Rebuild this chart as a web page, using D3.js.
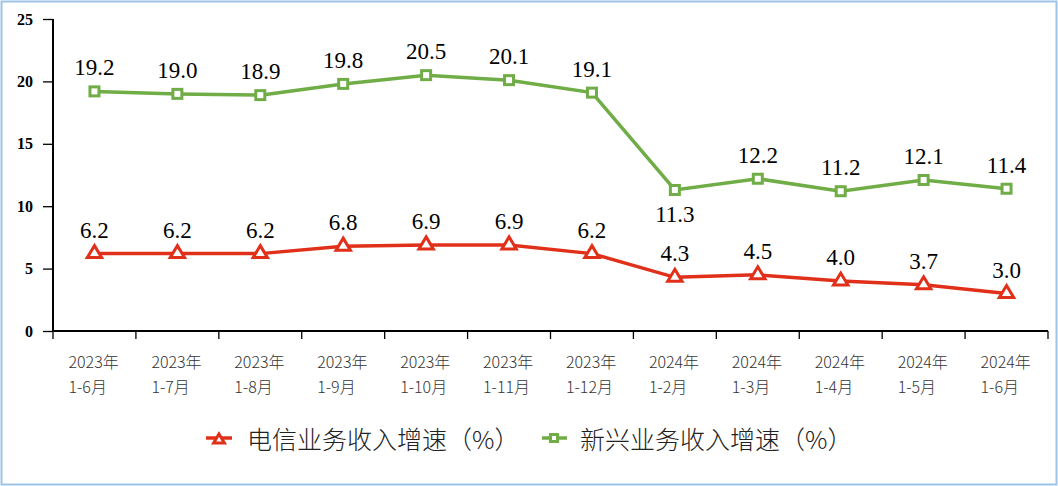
<!DOCTYPE html>
<html><head><meta charset="utf-8">
<script src="https://cdn.jsdelivr.net/npm/d3@7"></script>
<style>body{margin:0;background:#fff}svg{display:block}</style>
</head><body>
<script>
const categories = [["2023年","1-6月"],["2023年","1-7月"],["2023年","1-8月"],["2023年","1-9月"],["2023年","1-10月"],["2023年","1-11月"],["2023年","1-12月"],["2024年","1-2月"],["2024年","1-3月"],["2024年","1-4月"],["2024年","1-5月"],["2024年","1-6月"]];
const telecom = [6.2,6.2,6.2,6.8,6.9,6.9,6.2,4.3,4.5,4.0,3.7,3.0];
const emerging = [19.2,19.0,18.9,19.8,20.5,20.1,19.1,11.3,12.2,11.2,12.1,11.4];
const yTicks = [0,5,10,15,20,25];
const seriesNames = ["电信业务收入增速（%）","新兴业务收入增速（%）"];

const W=1058,H=486;
const svg=d3.select("body").append("svg").attr("width",W).attr("height",H);
svg.append("rect").attr("x",1.5).attr("y",1.5).attr("width",W-3).attr("height",H-3).attr("fill","#fff").attr("stroke","#9DC3E6").attr("stroke-width",2);

const x=d3.scaleBand().domain(d3.range(categories.length)).range([53,1048]);
const y=d3.scaleLinear().domain([0,25]).range([331,19]);
const red="#E1301A", green="#70AD47";

// y axis
const ya=svg.append("g").attr("transform","translate(53,0)").call(d3.axisLeft(y).tickValues(yTicks).tickSize(10).tickPadding(10));
ya.attr("font-family",null).attr("font-size",null);
ya.select(".domain").attr("stroke","#000").attr("stroke-width",2).attr("d","M0,19V331");
ya.selectAll(".tick line").attr("stroke","#000").attr("stroke-width",1.3);
ya.selectAll("text").style("font-family","'Liberation Serif','Times New Roman',serif").style("font-weight","bold").style("font-size","16px").attr("fill","#000");

// x axis
const xa=svg.append("g").attr("transform","translate(0,331)");
xa.append("line").attr("x1",53).attr("x2",1048).attr("stroke","#000").attr("stroke-width",2);
const tickPos=d3.range(categories.length+1).map(i=>i<categories.length?x(i):x.range()[1]);
xa.selectAll("line.t").data(tickPos).join("line").attr("class","t").attr("x1",d=>d).attr("x2",d=>d).attr("y1",0).attr("y2",8).attr("stroke","#000").attr("stroke-width",1.3);
const xl=xa.selectAll("text.c").data(categories).join("text").attr("class","c")
 .style("font-family","'Noto Sans CJK SC'").style("font-size","16px").style("font-weight","300").attr("fill","#333").attr("text-anchor","start");
xl.each(function(d,i){
  const t=d3.select(this);
  t.append("tspan").attr("x",x(i)+x.bandwidth()/2-26).attr("y",37).text(d[0]);
  t.append("tspan").attr("x",x(i)+x.bandwidth()/2-26).attr("y",62).text(d[1]);
});

const cx=i=>x(i)+x.bandwidth()/2;
const line=d3.line().x((d,i)=>cx(i)).y(d=>y(d));

function tri(g,px,py,s){
  s=s||1;
  g.append("path").attr("d",`M${px},${py-8*s}L${px+7.2*s},${py+4*s}L${px-7.2*s},${py+4*s}Z`).attr("fill","#fff").attr("stroke",red).attr("stroke-width",3).attr("stroke-linejoin","miter");
}
function sq(g,px,py,s){
  s=s||9;
  g.append("rect").attr("x",px-s/2).attr("y",py-s/2).attr("width",s).attr("height",s).attr("fill","#fff").attr("stroke",green).attr("stroke-width",3);
}

// green
svg.append("path").datum(emerging).attr("d",line).attr("fill","none").attr("stroke",green).attr("stroke-width",3.5);
const gm=svg.append("g");
emerging.forEach((v,i)=>sq(gm,cx(i),y(v)));
svg.append("g").selectAll("text").data(emerging).join("text")
 .attr("x",(d,i)=>cx(i)).attr("y",(d,i)=>i===7?y(d)+32:y(d)-16)
 .attr("text-anchor","middle").style("font-family","'Liberation Serif'").style("font-size","23px").attr("fill","#000")
 .text(d=>d.toFixed(1));

// red
svg.append("path").datum(telecom).attr("d",line).attr("fill","none").attr("stroke",red).attr("stroke-width",3.5);
const rm=svg.append("g");
telecom.forEach((v,i)=>tri(rm,cx(i),y(v)));
svg.append("g").selectAll("text").data(telecom).join("text")
 .attr("x",(d,i)=>cx(i)).attr("y",d=>y(d)-16)
 .attr("text-anchor","middle").style("font-family","'Liberation Serif'").style("font-size","23px").attr("fill","#000")
 .text(d=>d.toFixed(1));

// legend
const lg=svg.append("g");
lg.append("line").attr("x1",206).attr("x2",232).attr("y1",438).attr("y2",438).attr("stroke",red).attr("stroke-width",3.5);
tri(lg,219,440,0.75);
lg.append("text").attr("x",247).attr("y",449).style("font-family","'Noto Sans CJK SC'").style("font-size","25px").style("font-weight","300").attr("fill","#222").text(seriesNames[0]);
lg.append("line").attr("x1",542).attr("x2",567).attr("y1",438).attr("y2",438).attr("stroke",green).attr("stroke-width",3.5);
sq(lg,554,438,7);
lg.append("text").attr("x",580).attr("y",449).style("font-family","'Noto Sans CJK SC'").style("font-size","25px").style("font-weight","300").attr("fill","#222").text(seriesNames[1]);
</script>
</body></html>
